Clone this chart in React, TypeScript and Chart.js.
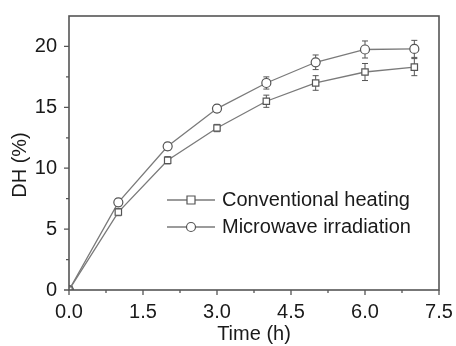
import React, { useEffect, useRef } from "react";
import { Chart, registerables } from "chart.js";

Chart.register(...registerables);

const timeH = [0, 1, 2, 3, 4, 5, 6, 7];
const conventional = [0, 6.4, 10.65, 13.3, 15.5, 17.0, 17.9, 18.3];
const conventionalErr = [0, 0.3, 0.3, 0.3, 0.5, 0.6, 0.7, 0.7];
const microwave = [0, 7.2, 11.8, 14.9, 17.0, 18.7, 19.75, 19.8];
const microwaveErr = [0, 0.3, 0.3, 0.3, 0.5, 0.6, 0.7, 0.7];
const seriesNames = ["Conventional heating", "Microwave irradiation"];
const xMajorTicks = [0, 1.5, 3, 4.5, 6, 7.5];
const xMinorTicks = [0.75, 2.25, 3.75, 5.25, 6.75];
const yMajorTicks = [0, 5, 10, 15, 20];
const yMinorTicks = [2.5, 7.5, 12.5, 17.5];

const FONT = "'Liberation Sans', Arial, sans-serif";
const AXIS = "#555";
const LINE = "#7a7a7a";
const MARK = "#555";
const TEXT = "#1a1a1a";

const errors = [conventionalErr, microwaveErr];
const shapes = ["rect", "circle"];

function drawMarker(ctx: CanvasRenderingContext2D, shape: string, x: number, y: number) {
  ctx.save();
  ctx.fillStyle = "#fff";
  ctx.strokeStyle = MARK;
  ctx.lineWidth = 1.2;
  ctx.beginPath();
  if (shape === "rect") {
    ctx.rect(x - 4, y - 4, 8, 8);
  } else {
    ctx.arc(x, y, 4.5, 0, Math.PI * 2);
  }
  ctx.fill();
  ctx.stroke();
  ctx.restore();
}

const customPlugin = {
  id: "custom",
  beforeDatasetsDraw(chart: any) {
    const ctx = chart.ctx;
    const xs = chart.scales.x;
    const ys = chart.scales.y;
    ctx.save();
    ctx.strokeStyle = MARK;
    ctx.lineWidth = 1;
    chart.data.datasets.forEach((ds: any, di: number) => {
      ds.data.forEach((p: any, i: number) => {
        const e = errors[di][i];
        if (!e) return;
        const px = xs.getPixelForValue(p.x);
        const y1 = ys.getPixelForValue(p.y + e);
        const y2 = ys.getPixelForValue(p.y - e);
        ctx.beginPath();
        ctx.moveTo(px, y1);
        ctx.lineTo(px, y2);
        ctx.moveTo(px - 3, y1);
        ctx.lineTo(px + 3, y1);
        ctx.moveTo(px - 3, y2);
        ctx.lineTo(px + 3, y2);
        ctx.stroke();
      });
    });
    ctx.restore();
  },
  afterDraw(chart: any) {
    const ctx = chart.ctx;
    const a = chart.chartArea;
    const xs = chart.scales.x;
    const ys = chart.scales.y;
    ctx.save();
    // frame
    ctx.strokeStyle = AXIS;
    ctx.lineWidth = 1.6;
    ctx.strokeRect(a.left, a.top, a.right - a.left, a.bottom - a.top);
    // ticks
    ctx.lineWidth = 1.3;
    ctx.beginPath();
    yMajorTicks.forEach((v) => {
      const py = ys.getPixelForValue(v);
      ctx.moveTo(a.left - 5, py);
      ctx.lineTo(a.left, py);
    });
    yMinorTicks.forEach((v) => {
      const py = ys.getPixelForValue(v);
      ctx.moveTo(a.left - 3, py);
      ctx.lineTo(a.left, py);
    });
    xMajorTicks.forEach((v) => {
      const px = xs.getPixelForValue(v);
      ctx.moveTo(px, a.bottom);
      ctx.lineTo(px, a.bottom + 5);
    });
    xMinorTicks.forEach((v) => {
      const px = xs.getPixelForValue(v);
      ctx.moveTo(px, a.bottom);
      ctx.lineTo(px, a.bottom + 3);
    });
    ctx.stroke();

    // axis titles
    ctx.fillStyle = TEXT;
    ctx.font = `20px ${FONT}`;
    ctx.textAlign = "center";
    ctx.textBaseline = "middle";
    ctx.fillText("Time (h)", (a.left + a.right) / 2, 334);
    ctx.save();
    ctx.translate(20, 165);
    ctx.rotate(-Math.PI / 2);
    ctx.fillText("DH (%)", 0, 0);
    ctx.restore();

    // legend
    const rows = [200, 227];
    rows.forEach((ly, i) => {
      ctx.strokeStyle = LINE;
      ctx.lineWidth = 1.3;
      ctx.beginPath();
      ctx.moveTo(167, ly);
      ctx.lineTo(215, ly);
      ctx.stroke();
      drawMarker(ctx, shapes[i], 191, ly);
      ctx.fillStyle = TEXT;
      ctx.font = `20px ${FONT}`;
      ctx.textAlign = "left";
      ctx.textBaseline = "middle";
      ctx.fillText(seriesNames[i], 222, ly);
    });
    ctx.restore();
  },
};

export default function App() {
  const ref = useRef<HTMLCanvasElement>(null);
  useEffect(() => {
    if (!ref.current) return;
    const mk = (vals: number[]) => timeH.map((t, i) => ({ x: t, y: vals[i] }));
    const chart = new Chart(ref.current, {
      type: "line",
      data: {
        datasets: [
          {
            label: seriesNames[0],
            data: mk(conventional),
            borderColor: LINE,
            borderWidth: 1.3,
            pointStyle: "rect",
            pointRadius: 4.5,
            pointBackgroundColor: "#fff",
            pointBorderColor: MARK,
            pointBorderWidth: 1.2,
            tension: 0,
          },
          {
            label: seriesNames[1],
            data: mk(microwave),
            borderColor: LINE,
            borderWidth: 1.3,
            pointStyle: "circle",
            pointRadius: 4.5,
            pointBackgroundColor: "#fff",
            pointBorderColor: MARK,
            pointBorderWidth: 1.2,
            tension: 0,
          },
        ],
      },
      options: {
        animation: false,
        responsive: false,
        maintainAspectRatio: false,
        layout: { padding: { top: 14, right: 17, left: 0, bottom: 0 } },
        plugins: { legend: { display: false }, tooltip: { enabled: false } },
        scales: {
          x: {
            type: "linear",
            min: 0,
            max: 7.5,
            grid: { display: false },
            border: { display: false },
            ticks: {
              stepSize: 1.5,
              padding: 2,
              color: TEXT,
              font: { size: 20, family: FONT },
              maxRotation: 0,
              callback: (v: any) => Number(v).toFixed(1),
            },
            afterFit: (s: any) => {
              s.height = 56;
            },
          },
          y: {
            type: "linear",
            min: 0,
            max: 22.5,
            grid: { display: false },
            border: { display: false },
            ticks: {
              stepSize: 5,
              includeBounds: false,
              padding: 4,
              color: TEXT,
              font: { size: 20, family: FONT },
            },
            afterFit: (s: any) => {
              s.width = 69;
            },
          },
        },
      },
      plugins: [customPlugin],
    });
    return () => chart.destroy();
  }, []);
  return (
    <div style={{ position: "fixed", left: 0, top: 0, width: 456, height: 346, background: "#fff" }}>
      <canvas ref={ref} width={456} height={346} style={{ width: 456, height: 346 }} />
    </div>
  );
}
